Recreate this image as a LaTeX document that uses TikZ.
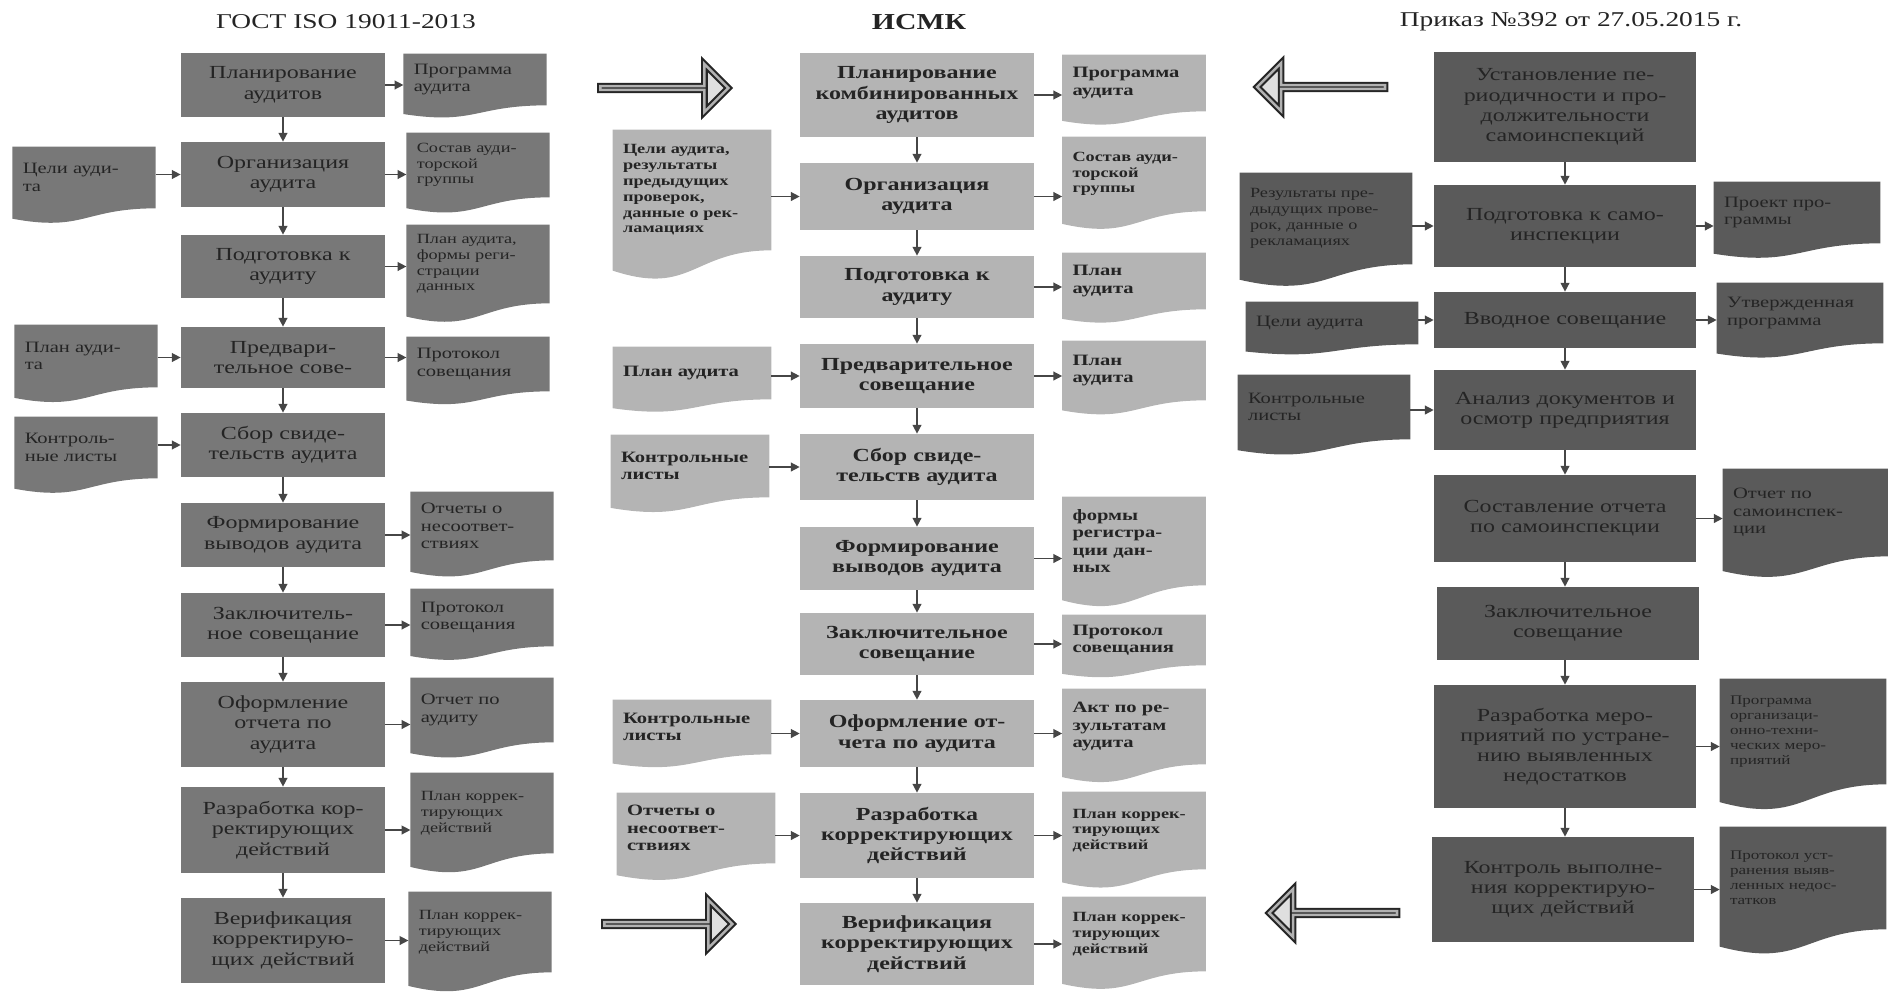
\documentclass[tikz,border=0pt]{standalone}
\usepackage{fontspec}
\setmainfont{Liberation Serif}[FakeStretch=1.3]
\usepackage{tikz}
\usetikzlibrary{calc,arrows.meta,shapes.arrows,backgrounds}
\definecolor{GostGray}{RGB}{120,120,120}
\definecolor{IsmkGray}{RGB}{180,180,180}
\definecolor{PrikGray}{RGB}{90,90,90}
\definecolor{InkGray}{RGB}{36,36,36}
\definecolor{FlowGray}{RGB}{70,70,70}
\newcommand\bxfont{\fontsize{10.5}{11.5}\selectfont}
\newcommand\dcfont{\fontsize{9}{10}\selectfont}
\newcommand\dcsmall{\fontsize{8}{9}\selectfont}
\newcommand\dctiny{\fontsize{7.5}{8.5}\selectfont}
\tikzset{
  gbox/.style={fill=GostGray,text=InkGray,minimum width=4.08cm,text width=3.9cm,
    align=center,inner sep=0pt,font=\bxfont},
  mbox/.style={fill=IsmkGray,text=InkGray,minimum width=4.68cm,text width=4.5cm,
    align=center,inner sep=0pt,font=\bxfont\bfseries},
  pbox/.style={fill=PrikGray,text=InkGray,minimum width=5.24cm,text width=5.0cm,
    align=center,inner sep=0pt,font=\bxfont},
  doc/.style={align=left,inner xsep=0.2cm,inner ysep=0pt,text=InkGray,font=\dcfont},
  gdoc/.style={doc,text width=2.45cm},
  mdoc/.style={doc,text width=2.46cm,font=\dcfont\bfseries},
  midoc/.style={doc,text width=2.76cm,font=\dcfont\bfseries},
  pdoc/.style={doc,text width=2.92cm},
  pidoc/.style={doc,text width=3.04cm},
  flow/.style={draw=FlowGray,line width=0.8pt,-{Triangle[length=5pt,width=5pt]}},
  bigarrow/.style={single arrow,draw=black!85,line width=1.2pt,double=gray!60,
    double distance=1.4pt,fill=gray!25,single arrow head extend=0.25cm,
    single arrow head indent=0pt,minimum height=2.56cm,minimum width=0.96cm,inner sep=0pt},
  heading/.style={font=\fontsize{12}{14}\selectfont,text=InkGray},
}

\begin{document}
\begin{tikzpicture}[x=0.02cm,y=-0.02cm]
\useasboundingbox (0,0) rectangle (1888,994);
% GOST column
\node[heading] (tg) at (346,22) {ГОСТ ISO 19011-2013};
\node[gbox,minimum height=1.28cm] (g1) at (283,85) {Планирование\\аудитов};
\node[gbox,minimum height=1.30cm] (g2) at (283,174.5) {Организация\\аудита};
\node[gbox,minimum height=1.26cm] (g3) at (283,266.5) {Подготовка к\\аудиту};
\node[gbox,minimum height=1.22cm] (g4) at (283,357.5) {Предвари-\\тельное сове-};
\node[gbox,minimum height=1.28cm] (g5) at (283,445) {Сбор свиде-\\тельств аудита};
\node[gbox,minimum height=1.28cm] (g6) at (283,535) {Формирование\\выводов аудита};
\node[gbox,minimum height=1.28cm] (g7) at (283,625) {Заключитель-\\ное совещание};
\node[gbox,minimum height=1.70cm] (g8) at (283,724.5) {Оформление\\отчета по\\аудита};
\node[gbox,minimum height=1.72cm] (g9) at (283,830) {Разработка кор-\\ректирующих\\действий};
\node[gbox,minimum height=1.70cm] (g10) at (283,940.5) {Верификация\\корректирую-\\щих действий};
\node[gdoc,minimum height=1.02cm] (gd1) at (475,79.5) {Программа\\аудита};
\node[gdoc,minimum height=1.28cm,font=\dcsmall] (gd2) at (478,165) {Состав ауди-\\торской\\группы};
\node[gdoc,minimum height=1.56cm,font=\dcsmall] (gd3) at (478,264) {План аудита,\\формы реги-\\страции\\данных};
\node[gdoc,minimum height=1.08cm] (gd4) at (478,364) {Протокол\\совещания};
\node[gdoc,minimum height=1.36cm] (gd6) at (482,526) {Отчеты о\\несоответ-\\ствиях};
\node[gdoc,minimum height=1.14cm] (gd7) at (482,617.5) {Протокол\\совещания};
\node[gdoc,minimum height=1.28cm] (gd8) at (482,710) {Отчет по\\аудиту};
\node[gdoc,minimum height=1.60cm,font=\dcsmall] (gd9) at (482,813) {План коррек-\\тирующих\\действий};
\node[gdoc,minimum height=1.60cm,font=\dcsmall] (gd10) at (480,932) {План коррек-\\тирующих\\действий};
\node[gdoc,minimum height=1.22cm] (gi2) at (84,177.5) {Цели ауди-\\та};
\node[gdoc,minimum height=1.24cm] (gi4) at (86,356) {План ауди-\\та};
\node[gdoc,minimum height=1.22cm] (gi5) at (86,447.5) {Контроль-\\ные листы};
% ISMK column
\node[heading,font=\fontsize{13}{15}\selectfont\bfseries] (tm) at (919,22) {ИСМК};
\node[bigarrow] (arrA) at (663.5,88) {};
\node[bigarrow] (arrB) at (667.5,924) {};
\node[mbox,minimum height=1.68cm] (m1) at (917,95) {Планирование\\комбинированных\\аудитов};
\node[mbox,minimum height=1.34cm] (m2) at (917,196.5) {Организация\\аудита};
\node[mbox,minimum height=1.24cm] (m3) at (917,287) {Подготовка к\\аудиту};
\node[mbox,minimum height=1.28cm] (m4) at (917,376) {Предварительное\\совещание};
\node[mbox,minimum height=1.32cm] (m5) at (917,467) {Сбор свиде-\\тельств аудита};
\node[mbox,minimum height=1.26cm] (m6) at (917,558.5) {Формирование\\выводов аудита};
\node[mbox,minimum height=1.24cm] (m7) at (917,644) {Заключительное\\совещание};
\node[mbox,minimum height=1.34cm] (m8) at (917,733.5) {Оформление от-\\чета по аудита};
\node[mbox,minimum height=1.70cm] (m9) at (917,835.5) {Разработка\\корректирующих\\действий};
\node[mbox,minimum height=1.64cm] (m10) at (917,944) {Верификация\\корректирующих\\действий};
\node[mdoc,minimum height=1.12cm] (md1) at (1134,83) {Программа\\аудита};
\node[mdoc,minimum height=1.48cm,font=\dcsmall\bfseries] (md2) at (1134,174) {Состав ауди-\\торской\\группы};
\node[mdoc,minimum height=1.12cm] (md3) at (1134,281) {План\\аудита};
\node[mdoc,minimum height=1.18cm] (md4) at (1134,370.5) {План\\аудита};
\node[mdoc,minimum height=1.76cm] (md6) at (1134,541) {формы\\регистра-\\ции дан-\\ных};
\node[mdoc,minimum height=1.00cm] (md7) at (1134,640) {Протокол\\совещания};
\node[mdoc,minimum height=1.50cm] (md8) at (1134,726.5) {Акт по ре-\\зультатам\\аудита};
\node[mdoc,minimum height=1.54cm,font=\dcsmall\bfseries] (md9) at (1134,830.5) {План коррек-\\тирующих\\действий};
\node[mdoc,minimum height=1.48cm,font=\dcsmall\bfseries] (md10) at (1134,934) {План коррек-\\тирующих\\действий};
\node[midoc,minimum height=2.40cm,font=\dcsmall\bfseries] (mi2) at (692,190) {Цели аудита,\\результаты\\предыдущих\\проверок,\\данные о рек-\\ламациях};
\node[midoc,minimum height=1.04cm] (mi4) at (692,373) {План аудита};
\node[midoc,minimum height=1.24cm] (mi5) at (690,466) {Контрольные\\листы};
\node[midoc,minimum height=1.08cm] (mi8) at (692,727) {Контрольные\\листы};
\node[midoc,minimum height=1.40cm] (mi9) at (696,828) {Отчеты о\\несоответ-\\ствиях};
% Prikaz column
\node[heading] (tp) at (1571,22) {Приказ №392 от 27.05.2015 г.};
\node[bigarrow,shape border rotate=180] (arrC) at (1322,87) {};
\node[bigarrow,shape border rotate=180] (arrD) at (1334,913) {};
\node[pbox,minimum height=2.20cm] (p1) at (1565,107) {Установление пе-\\риодичности и про-\\должительности\\самоинспекций};
\node[pbox,minimum height=1.64cm] (p2) at (1565,226) {Подготовка к само-\\инспекции};
\node[pbox,minimum height=1.12cm] (p3) at (1565,320) {Вводное совещание};
\node[pbox,minimum height=1.60cm] (p4) at (1565,410) {Анализ документов и\\осмотр предприятия};
\node[pbox,minimum height=1.74cm] (p5) at (1565,518.5) {Составление отчета\\по самоинспекции};
\node[pbox,minimum height=1.46cm] (p6) at (1568,623.5) {Заключительное\\совещание};
\node[pbox,minimum height=2.46cm] (p7) at (1565,746.5) {Разработка меро-\\приятий по устране-\\нию выявленных\\недостатков};
\node[pbox,minimum height=2.10cm] (p8) at (1563,889.5) {Контроль выполне-\\ния корректирую-\\щих действий};
\node[pdoc,minimum height=1.22cm] (pd2) at (1797,212.5) {Проект про-\\граммы};
\node[pdoc,minimum height=1.20cm] (pd3) at (1800,313) {Утвержденная\\программа};
\node[pdoc,minimum height=1.74cm] (pd5) at (1806,512.5) {Отчет по\\самоинспек-\\ции};
\node[pdoc,minimum height=2.10cm,font=\dctiny] (pd7) at (1803,731.5) {Программа\\организаци-\\онно-техни-\\ческих меро-\\приятий};
\node[pdoc,minimum height=2.04cm,font=\dctiny] (pd8) at (1803,878) {Протокол уст-\\ранения выяв-\\ленных недос-\\татков};
\node[pidoc,minimum height=1.82cm,font=\dcsmall] (pi2) at (1326,218.5) {Результаты пре-\\дыдущих прове-\\рок, данные о\\рекламациях};
\node[pidoc,minimum height=0.84cm] (pi3) at (1332,323) {Цели аудита};
\node[pidoc,minimum height=1.28cm] (pi4) at (1324,407) {Контрольные\\листы};
% flow down the columns
\draw[flow] (g1) -- (g2);
\draw[flow] (g2) -- (g3);
\draw[flow] (g3) -- (g4);
\draw[flow] (g4) -- (g5);
\draw[flow] (g5) -- (g6);
\draw[flow] (g6) -- (g7);
\draw[flow] (g7) -- (g8);
\draw[flow] (g8) -- (g9);
\draw[flow] (g9) -- (g10);
\draw[flow] (m1) -- (m2);
\draw[flow] (m2) -- (m3);
\draw[flow] (m3) -- (m4);
\draw[flow] (m4) -- (m5);
\draw[flow] (m5) -- (m6);
\draw[flow] (m6) -- (m7);
\draw[flow] (m7) -- (m8);
\draw[flow] (m8) -- (m9);
\draw[flow] (m9) -- (m10);
\draw[flow] (p1) -- (p1 |- p2.north);
\draw[flow] (p2) -- (p2 |- p3.north);
\draw[flow] (p3) -- (p3 |- p4.north);
\draw[flow] (p4) -- (p4 |- p5.north);
\draw[flow] (p5) -- (p5 |- p6.north);
\draw[flow] (p6.south -| p7) -- (p7);
\draw[flow] (p7) -- (p7 |- p8.north);
% outputs
\draw[flow] (g1.east) -- (g1.east -| gd1.west);
\draw[flow] (g2.east) -- (g2.east -| gd2.west);
\draw[flow] (g3.east) -- (g3.east -| gd3.west);
\draw[flow] (g4.east) -- (g4.east -| gd4.west);
\draw[flow] (g6.east) -- (g6.east -| gd6.west);
\draw[flow] (g7.east) -- (g7.east -| gd7.west);
\draw[flow] (g8.east) -- (g8.east -| gd8.west);
\draw[flow] (g9.east) -- (g9.east -| gd9.west);
\draw[flow] (g10.east) -- (g10.east -| gd10.west);
\draw[flow] (m1.east) -- (m1.east -| md1.west);
\draw[flow] (m2.east) -- (m2.east -| md2.west);
\draw[flow] (m3.east) -- (m3.east -| md3.west);
\draw[flow] (m4.east) -- (m4.east -| md4.west);
\draw[flow] (m6.east) -- (m6.east -| md6.west);
\draw[flow] (m7.east) -- (m7.east -| md7.west);
\draw[flow] (m8.east) -- (m8.east -| md8.west);
\draw[flow] (m9.east) -- (m9.east -| md9.west);
\draw[flow] (m10.east) -- (m10.east -| md10.west);
\draw[flow] (p2.east) -- (p2.east -| pd2.west);
\draw[flow] (p3.east) -- (p3.east -| pd3.west);
\draw[flow] (p5.east) -- (p5.east -| pd5.west);
\draw[flow] (p7.east) -- (p7.east -| pd7.west);
\draw[flow] (p8.east) -- (p8.east -| pd8.west);
% inputs
\draw[flow] (gi2.east |- g2.west) -- (g2.west);
\draw[flow] (gi4.east |- g4.west) -- (g4.west);
\draw[flow] (gi5.east |- g5.west) -- (g5.west);
\draw[flow] (mi2.east |- m2.west) -- (m2.west);
\draw[flow] (mi4.east |- m4.west) -- (m4.west);
\draw[flow] (mi5.east |- m5.west) -- (m5.west);
\draw[flow] (mi8.east |- m8.west) -- (m8.west);
\draw[flow] (mi9.east |- m9.west) -- (m9.west);
\draw[flow] (pi2.east |- p2.west) -- (p2.west);
\draw[flow] (pi3.east |- p3.west) -- (p3.west);
\draw[flow] (pi4.east |- p4.west) -- (p4.west);
% document sheets with a wavy lower edge
\begin{scope}[on background layer]
\foreach \dn/\dc in {gd1/GostGray,gd2/GostGray,gd3/GostGray,gd4/GostGray,gd6/GostGray,
    gd7/GostGray,gd8/GostGray,gd9/GostGray,gd10/GostGray,gi2/GostGray,gi4/GostGray,gi5/GostGray,
    md1/IsmkGray,md2/IsmkGray,md3/IsmkGray,md4/IsmkGray,md6/IsmkGray,md7/IsmkGray,md8/IsmkGray,
    md9/IsmkGray,md10/IsmkGray,mi2/IsmkGray,mi4/IsmkGray,mi5/IsmkGray,mi8/IsmkGray,mi9/IsmkGray,
    pd2/PrikGray,pd3/PrikGray,pd5/PrikGray,pd7/PrikGray,pd8/PrikGray,pi2/PrikGray,pi3/PrikGray,pi4/PrikGray}
  \fill[\dc] let \p1=(\dn.north west), \p2=(\dn.south east) in
    (\x1,\y1) -- (\x2,\y1) -- (\x2,\y2)
    .. controls ({(\x1+\x2)/2},\y2) and ({(\x1+\x2)/2},{\y2-0.384*(\y1-\y2)}) .. (\x1,{\y2-0.168*(\y1-\y2)}) -- cycle;
\end{scope}
\end{tikzpicture}
\end{document}
